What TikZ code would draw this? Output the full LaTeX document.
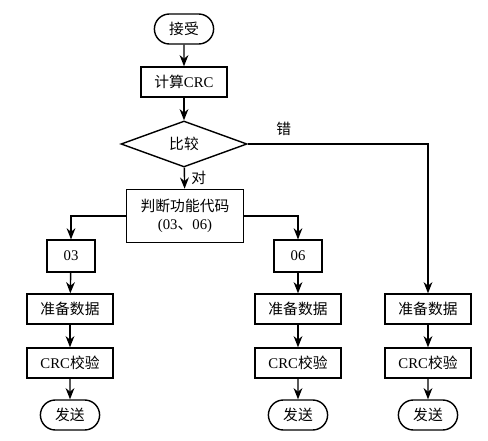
\documentclass[tikz,border=0pt]{standalone}
\usepackage{fontspec}
\setmainfont{Liberation Serif}
\newfontfamily\cjk{Noto Sans CJK SC}
\usetikzlibrary{shapes,arrows.meta,positioning}

\begin{document}
\begin{tikzpicture}[
    x=0.025cm, y=-0.025cm,
    font=\fontsize{10.5}{13}\selectfont,
    every path/.style={line width=1pt},
    proc/.style={rectangle, draw, minimum width=2.15cm, minimum height=0.75cm, inner sep=1pt, align=center},
    code/.style={rectangle, draw, line width=1.4pt, minimum width=1.18cm, minimum height=0.78cm, inner sep=1pt},
    term/.style={rounded rectangle, draw, minimum width=1.55cm, minimum height=0.75cm, inner sep=1pt},
    decide/.style={diamond, draw, minimum width=3.15cm, minimum height=1.15cm, inner sep=0pt},
    arrow/.style={-{Stealth[length=2.8mm, width=2.2mm]}}
]
    \useasboundingbox (0,0) rectangle (488,441);

    % 上部
    \node[term] (recv) at (184, 29) {\cjk 接受};
    \node[proc] (calc) at (184, 82) {{\cjk 计算}CRC};
    \node[decide] (cmp) at (184, 144) {\cjk 比较};
    \node[proc, minimum width=2.93cm, minimum height=1.33cm] (judge) at (185, 216) {{\cjk 判断功能代码}\\(03{\cjk 、}06)};

    % 功能代码
    \node[code] (c03) at (71, 256) {03};
    \node[code] (c06) at (298, 256) {06};

    % 三列
    \node[proc] (prepA) at (70, 309) {\cjk 准备数据};
    \node[proc] (prepB) at (298, 309) {\cjk 准备数据};
    \node[proc] (prepC) at (428, 309) {\cjk 准备数据};
    \node[proc] (crcA) at (70, 363) {CRC{\cjk 校验}};
    \node[proc] (crcB) at (298, 363) {CRC{\cjk 校验}};
    \node[proc] (crcC) at (428, 363) {CRC{\cjk 校验}};
    \node[term] (sendA) at (70, 415) {\cjk 发送};
    \node[term] (sendB) at (298, 415) {\cjk 发送};
    \node[term] (sendC) at (428, 415) {\cjk 发送};

    % 箭头
    \draw[arrow] (recv) -- (calc);
    \draw[arrow] (calc) -- (cmp);
    \draw[arrow] (cmp) -- node[right, xshift=1pt] (ok) {\cjk 对} (judge);
    \draw[arrow] (cmp.east) -| node[above, pos=0.1, yshift=2pt] (err) {\cjk 错} (prepC.north);
    \draw[arrow] (judge.west) -| (c03.north);
    \draw[arrow] (judge.east) -| (c06.north);
    \draw[arrow] (c03) -- (prepA);
    \draw[arrow] (c06) -- (prepB);
    \foreach \col in {A,B,C} {
        \draw[arrow] (prep\col) -- (crc\col);
        \draw[arrow] (crc\col) -- (send\col);
    }
\end{tikzpicture}
\end{document}
